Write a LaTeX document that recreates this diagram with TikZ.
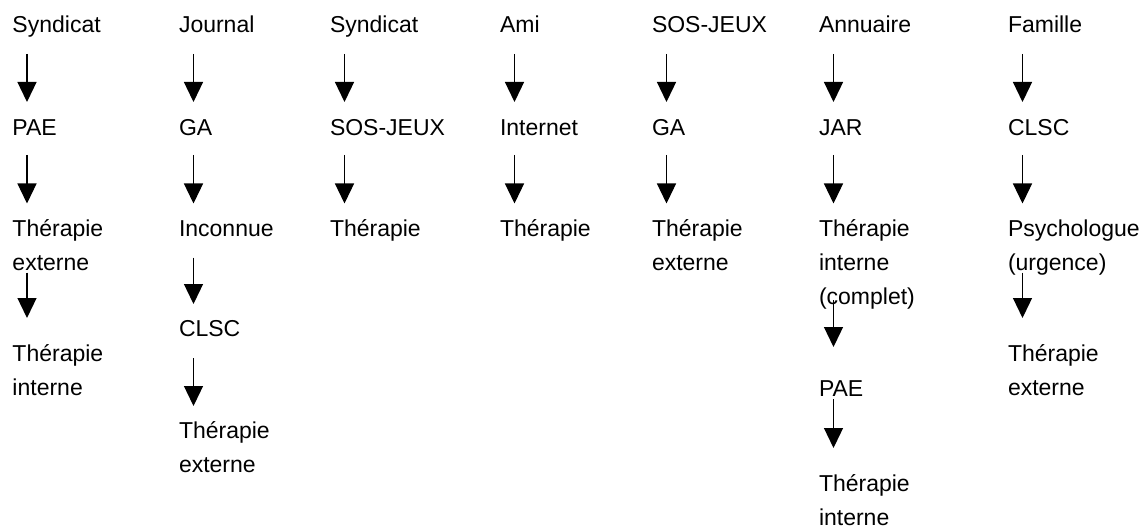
\documentclass[tikz,border=0pt]{standalone}
\usepackage{fontspec}
\setmainfont{Liberation Sans}
\usetikzlibrary{arrows.meta}
\tikzset{
  lbl/.style={inner sep=0pt, outer sep=0pt, anchor=base west, align=left, font=\fontsize{23}{34}\selectfont},
  conn/.style={line width=1.3pt, -{Triangle[length=20pt,width=19pt]}}
}
% #1 source, #2 target, #3 gap below source's last baseline, #4 gap of tip above target's last baseline
\newcommand\myarrow[4]{\draw[conn] ([shift={(14.5pt,-#3pt)}]#1.base west) -- ([shift={(14.5pt,#4pt)}]#2.base west);}
\begin{document}
\begin{tikzpicture}[x=1pt,y=-1pt]
\useasboundingbox (0,0) rectangle (1147,529);
% column 1
\node[lbl] (a1) at (12.5,33) {Syndicat};
\node[lbl] (a2) at (12.5,136) {PAE};
\node[lbl] (a3) at (12.5,270.5) {Thérapie\\externe};
\node[lbl] (a4) at (12.5,395) {Thérapie\\interne};
\myarrow{a1}{a2}{21}{34}
\myarrow{a2}{a3}{19}{67}
\myarrow{a3}{a4}{2}{77}
% column 2
\node[lbl] (b1) at (179,33) {Journal};
\node[lbl] (b2) at (179,136) {GA};
\node[lbl] (b3) at (179,236.5) {Inconnue};
\node[lbl] (b4) at (179,336) {CLSC};
\node[lbl] (b5) at (179,472) {Thérapie\\externe};
\myarrow{b1}{b2}{21}{34}
\myarrow{b2}{b3}{19}{33}
\myarrow{b3}{b4}{21}{32}
\myarrow{b4}{b5}{22}{66}
% column 3
\node[lbl] (c1) at (330,33) {Syndicat};
\node[lbl] (c2) at (330,136) {SOS-JEUX};
\node[lbl] (c3) at (330,236.5) {Thérapie};
\myarrow{c1}{c2}{21}{34}
\myarrow{c2}{c3}{19}{33}
% column 4
\node[lbl] (d1) at (500,33) {Ami};
\node[lbl] (d2) at (500,136) {Internet};
\node[lbl] (d3) at (500,236.5) {Thérapie};
\myarrow{d1}{d2}{21}{34}
\myarrow{d2}{d3}{19}{33}
% column 5
\node[lbl] (e1) at (652,33) {SOS-JEUX};
\node[lbl] (e2) at (652,136) {GA};
\node[lbl] (e3) at (652,270.5) {Thérapie\\externe};
\myarrow{e1}{e2}{21}{34}
\myarrow{e2}{e3}{19}{67}
% column 6
\node[lbl] (f1) at (819,33) {Annuaire};
\node[lbl] (f2) at (819,136) {JAR};
\node[lbl] (f3) at (819,304.5) {Thérapie\\interne\\(complet)};
\node[lbl] (f4) at (819,396) {PAE};
\node[lbl] (f5) at (819,525.5) {Thérapie\\interne};
\myarrow{f1}{f2}{21}{34}
\myarrow{f2}{f3}{19}{101}
\myarrow{f3}{f4}{-4.5}{49}
\myarrow{f4}{f5}{3}{77.5}
% column 7
\node[lbl] (g1) at (1008,33) {Famille};
\node[lbl] (g2) at (1008,136) {CLSC};
\node[lbl] (g3) at (1008,270.5) {Psychologue\\(urgence)};
\node[lbl] (g4) at (1008,395) {Thérapie\\externe};
\myarrow{g1}{g2}{21}{34}
\myarrow{g2}{g3}{19}{67}
\myarrow{g3}{g4}{2}{77}
\end{tikzpicture}
\end{document}
